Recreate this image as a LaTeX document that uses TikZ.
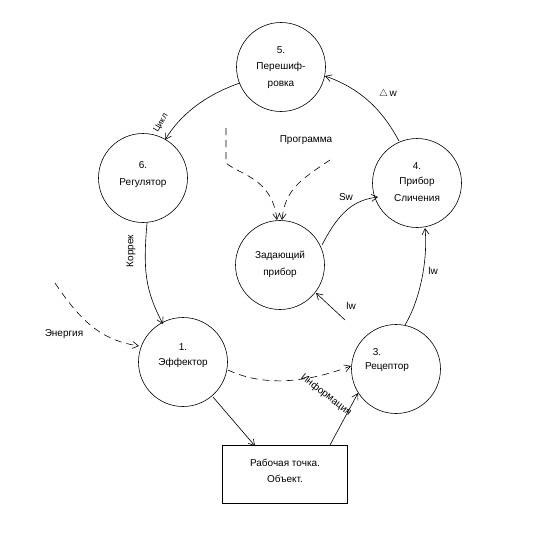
\documentclass[tikz,border=0pt]{standalone}
\usepackage{fontspec}
\setmainfont{Liberation Sans}
\usetikzlibrary{arrows.meta}
\begin{document}
\begin{tikzpicture}[x=1pt,y=-1pt,
  blk/.style={circle,draw,line width=0.6pt,minimum size=89pt,inner sep=0pt},
  lbl/.style={font=\fontsize{10}{12}\selectfont,inner sep=1pt},
  con/.style={line width=0.6pt,-{Straight Barb[length=6pt,width=7pt]}},
  dcon/.style={con,dash pattern=on 7pt off 5pt}]
\useasboundingbox (0,0) rectangle (548,535);
\node[blk] (c5) at (281,67) {};
\node[blk] (c6) at (143,178) {};
\node[blk] (c4) at (417,183) {};
\node[blk] (cz) at (280,265) {};
\node[blk] (c1) at (183,362) {};
\node[blk] (c3) at (396,369) {};
\node[draw,line width=0.6pt,minimum width=125pt,minimum height=58pt,inner sep=0pt] (box) at (284.5,474) {};
% texts
\node[lbl] (t5a) at (281,50) {5.};
\node[lbl] (t5b) at (281,67) {Перешиф-};
\node[lbl] (t5c) at (281,85) {ровка};
\node[lbl] (t6a) at (143,165) {6.};
\node[lbl] (t6b) at (143,183) {Регулятор};
\node[lbl] (t4a) at (417,166) {4.};
\node[lbl] (t4b) at (417,182) {Прибор};
\node[lbl] (t4c) at (417,198) {Сличения};
\node[lbl] (tza) at (280,256) {Задающий};
\node[lbl] (tzb) at (280,273) {прибор};
\node[lbl] (t1a) at (183,347) {1.};
\node[lbl] (t1b) at (183,363) {Эффектор};
\node[lbl] (t3a) at (377,352) {3.};
\node[lbl] (t3b) at (387,367) {Рецептор};
\node[lbl] (tba) at (285,463) {Рабочая точка.};
\node[lbl] (tbb) at (285,479) {Объект.};
% connectors
\coordinate (a4s) at (399,141);
\coordinate (a5e) at (325,76);
\draw[con] (a4s) .. controls (385,115) and (365,90) .. (a5e);
\node[lbl] (dw) at (388,94) {$\triangle$\,w};
\coordinate (a5s) at (240,83);
\coordinate (a6e) at (165,140);
\draw[con] (a5s) .. controls (205,95) and (180,115) .. (a6e);
\node[lbl,rotate=58,font=\fontsize{8.5}{9}\selectfont] (cyc) at (161,123) {Цикл};
\coordinate (a6s) at (147,223);
\coordinate (a1e) at (163,324);
\draw[con] (a6s) .. controls (143,270) and (145,290) .. (a1e);
\node[lbl,rotate=90] (kor) at (131,251) {Коррек};
\coordinate (en) at (55,283);
\coordinate (a1w) at (139,346);
\draw[dcon] (en) .. controls (80,320) and (100,340) .. (a1w);
\node[lbl] (ten) at (64,334) {Энергия};
\coordinate (a1r) at (228,370);
\coordinate (a3l) at (351,366);
\draw[dcon] (a1r) .. controls (260,385) and (300,385) .. (a3l);
\coordinate (a1b) at (213,397);
\coordinate (boxl) at (255,446);
\draw[con] (a1b) -- (boxl);
\coordinate (boxr) at (330,445);
\coordinate (a3b) at (358,393);
\draw[con] (boxr) -- (a3b);
\node[lbl,rotate=-38] (inf) at (326,395) {Информация};
\coordinate (a3t) at (345,320);
\coordinate (aze) at (316,293);
\draw[con] (a3t) -- (aze);
\node[lbl] (lw1) at (351,306) {lw};
\coordinate (a3u) at (405,325);
\coordinate (a4b) at (425,228);
\draw[con] (a3u) .. controls (420,300) and (428,260) .. (a4b);
\node[lbl] (lw2) at (433,271) {lw};
\coordinate (azs) at (322,245);
\coordinate (a4w) at (378,197);
\draw[con] (azs) .. controls (340,210) and (355,200) .. (a4w);
\node[lbl] (sw) at (346,197) {Sw};
\node[lbl] (prog) at (306,140) {Программа};
\coordinate (p1) at (226,128);
\coordinate (p2) at (226,163);
\coordinate (pz) at (277,220);
\draw[dcon] (p1) -- (p2) .. controls (240,175) and (272,178) .. (pz);
\coordinate (q1) at (330,160);
\coordinate (qz) at (282,220);
\draw[dcon] (q1) .. controls (300,180) and (285,190) .. (qz);
\end{tikzpicture}
\end{document}
